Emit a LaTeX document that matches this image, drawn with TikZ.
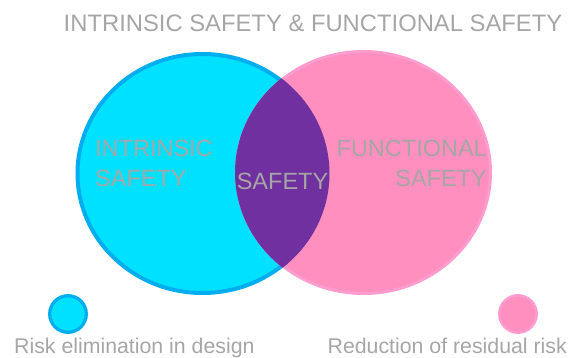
\documentclass[tikz,border=0pt]{standalone}
\usepackage{fontspec}
\setmainfont{Liberation Sans}
\definecolor{cyanfill}{HTML}{00E1FF}
\definecolor{cyanline}{HTML}{00AEEF}
\definecolor{pinkfill}{HTML}{FF8FBE}
\definecolor{pinkline}{HTML}{FF9CCF}
\definecolor{lens}{HTML}{7030A0}
\definecolor{txtgray}{HTML}{A6A6A6}
\tikzset{
  lbl/.style={inner sep=0pt, text=txtgray, font=\fontsize{23.5}{28}\selectfont},
  legtxt/.style={inner sep=0pt, text=txtgray, font=\fontsize{21.3}{25}\selectfont},
}
\begin{document}
\begin{tikzpicture}[x=1pt,y=-1pt]
\useasboundingbox (0,0) rectangle (582,358);
% big circles
\path[fill=cyanfill, draw=cyanline, line width=4pt] (202.5,173.5) ellipse [x radius=125, y radius=119.5];
\path[fill=pinkfill, draw=pinkline, line width=3pt] (363.5,172.5) ellipse [x radius=127, y radius=121];
\begin{scope}
  \clip (202.5,173.5) ellipse [x radius=127, y radius=121.5];
  \fill[lens] (363.5,172.5) ellipse [x radius=128.5, y radius=122.5];
\end{scope}
% title
\node[lbl, anchor=base, font=\fontsize{23.8}{28}\selectfont] (title) at (313,32) {INTRINSIC SAFETY \& FUNCTIONAL SAFETY};
% labels
\node[lbl, anchor=base west] (intr1) at (95,157) {INTRINSIC};
\node[lbl, anchor=base west] (intr2) at (95,187) {SAFETY};
\node[lbl, anchor=base] (safe) at (282.5,190) {SAFETY};
\node[lbl, anchor=base east] (func1) at (487,157) {FUNCTIONAL};
\node[lbl, anchor=base east] (func2) at (487,187) {SAFETY};
% legend
\path[fill=cyanfill, draw=cyanline, line width=3.3pt] (68,314) circle [radius=18.3];
\path[fill=pinkfill, draw=pinkline, line width=2.5pt] (518,314) circle [radius=18.7];
\node[legtxt, anchor=base west] (leg1) at (14,354) {Risk elimination in design};
\node[legtxt, anchor=base east] (leg2) at (567,354) {Reduction of residual risk};
\end{tikzpicture}
\end{document}
